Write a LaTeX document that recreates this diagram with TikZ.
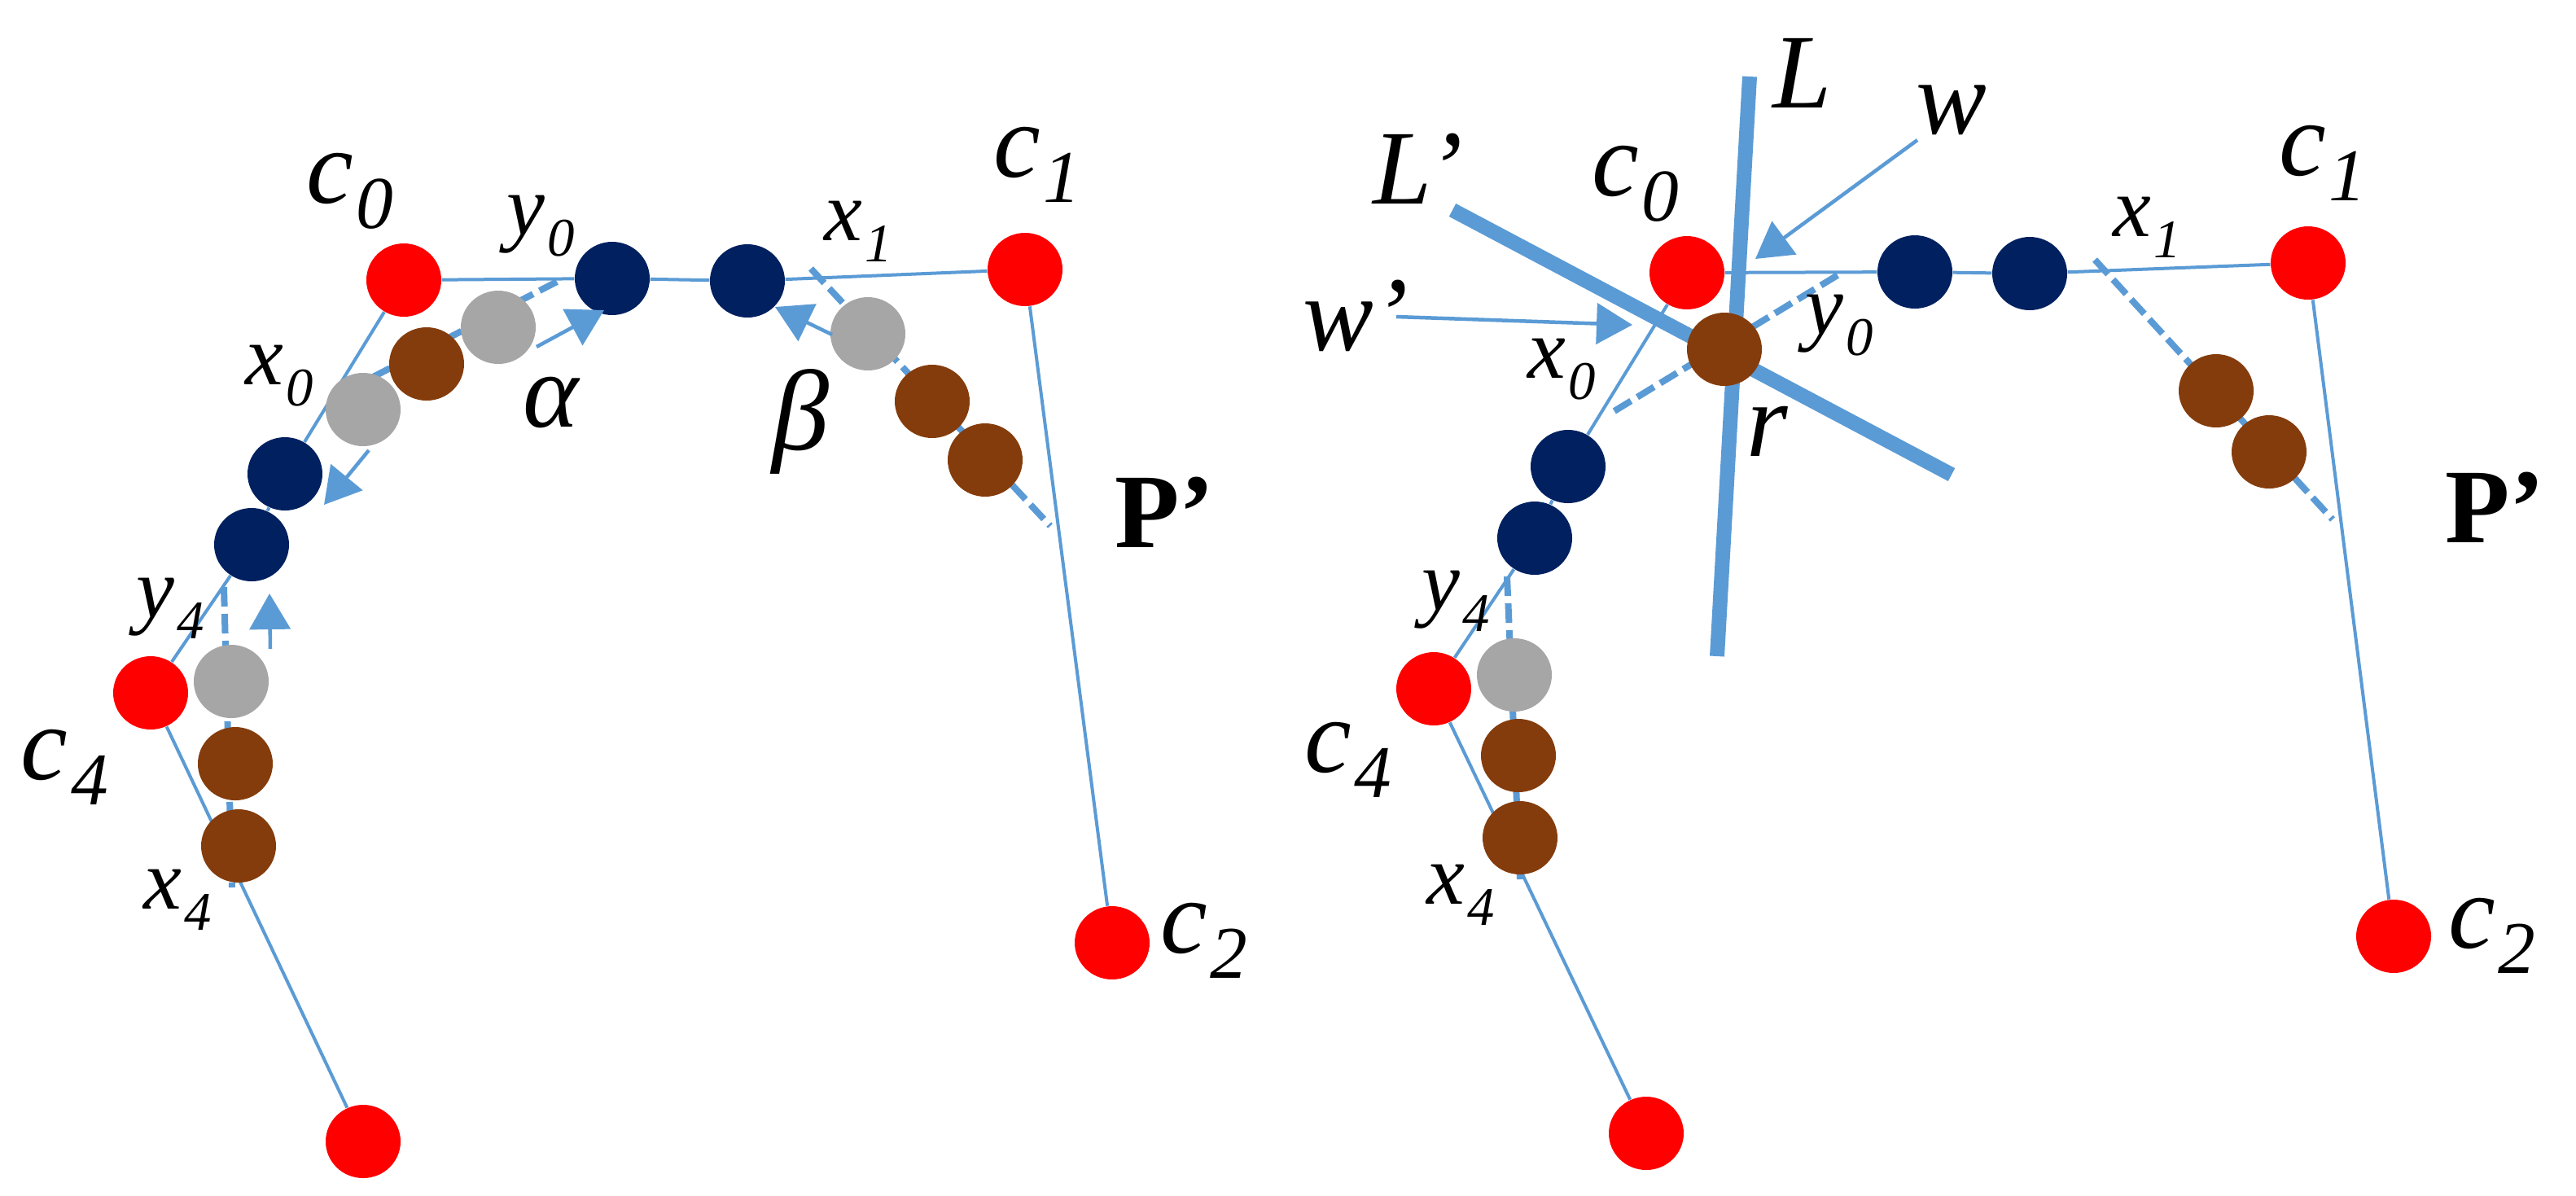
\documentclass[tikz,border=0pt]{standalone}
\usepackage{fontspec}
\setmainfont{Liberation Serif}
\usepackage{tikz}
\usetikzlibrary{shapes.geometric,arrows.meta,backgrounds}

\definecolor{ctrlred}{HTML}{FF0000}
\definecolor{navypt}{HTML}{002060}
\definecolor{brownpt}{HTML}{843C0C}
\definecolor{graypt}{HTML}{A6A6A6}
\definecolor{linkblue}{HTML}{5B9BD5}

\newcommand{\lbig}[2]{{\fontsize{37}{37}\selectfont\itshape #1\kern1pt\raisebox{-9pt}{\fontsize{26}{26}\selectfont #2}}}
\newcommand{\lsmall}[2]{{\fontsize{30}{30}\selectfont\itshape #1\kern1pt\raisebox{-7.4pt}{\fontsize{19}{19}\selectfont #2}}}

\begin{document}
\begin{tikzpicture}[x=1cm,y=-1cm,
    ball/.style = {ellipse, minimum width=.92cm, minimum height=.9cm, inner sep=0},
    ctrl/.style = {ball, fill=ctrlred},
    navy/.style = {ball, fill=navypt},
    brn/.style = {ball, fill=brownpt},
    gry/.style = {ball, fill=graypt},
    poly/.style = {draw=linkblue, line width=.04cm},
    foot/.style = {draw=linkblue, line width=.08cm, dash pattern=on .24cm off .09cm},
    move/.style = {draw=linkblue, line width=.045cm, -{Triangle[length=.44cm,width=.5cm,fill=linkblue]}},
    axis/.style = {draw=linkblue, line width=.18cm},
    lab/.style = {anchor=base west, inner sep=0, outer sep=0},
    big/.style = {lab, font=\fontsize{37}{37}\selectfont\itshape},
    small/.style = {lab, font=\fontsize{30}{30}\selectfont\itshape}]
    \useasboundingbox (0,0) rectangle (31.64,14.68);

    % left panel
    \node[ctrl] (lc0) at (4.96,3.44) {};
    \node[ctrl] (lc1) at (12.59,3.31) {};
    \node[ctrl] (lc2) at (13.66,11.58) {};
    \node[ctrl] (lc3) at (4.46,14.02) {};
    \node[ctrl] (lc4) at (1.85,8.51) {};
    \node[navy] (ly0) at (7.52,3.42) {};
    \node[navy] (lx1) at (9.18,3.45) {};
    \node[navy] (lx0) at (3.50,5.82) {};
    \node[navy] (ly4) at (3.09,6.69) {};
    \node[gry] (lg0) at (6.12,4.02) {};
    \node[gry] (lg1) at (4.46,5.03) {};
    \node[gry] (lg2) at (10.66,4.10) {};
    \node[gry] (lg3) at (2.84,8.37) {};
    \node[brn] (lb0) at (5.24,4.47) {};
    \node[brn] (lb1) at (11.45,4.93) {};
    \node[brn] (lb2) at (12.10,5.65) {};
    \node[brn] (lb3) at (2.89,9.38) {};
    \node[brn] (lb4) at (2.93,10.39) {};

    \coordinate (lf0) at (6.84,3.46);
    \coordinate (lf1) at (4.08,4.89);
    \coordinate (lf2) at (9.96,3.30);
    \coordinate (lf3) at (12.90,6.46);
    \coordinate (lf4) at (2.75,7.21);
    \coordinate (lf5) at (2.85,10.90);
    \coordinate (la0) at (6.59,4.26);
    \coordinate (la1) at (7.42,3.81);
    \coordinate (la2) at (4.53,5.53);
    \coordinate (la3) at (3.98,6.20);
    \coordinate (la4) at (3.32,7.97);
    \coordinate (la5) at (3.31,7.29);
    \coordinate (la6) at (10.22,4.11);
    \coordinate (la7) at (9.52,3.77);

    \begin{scope}[on background layer]
    \draw[poly] (lc0) -- (ly0);
    \draw[poly] (ly0) -- (lx1);
    \draw[poly] (lx1) -- (lc1);
    \draw[poly] (lc1) -- (lc2);
    \draw[poly] (lc0) -- (lx0);
    \draw[poly] (lx0) -- (ly4);
    \draw[poly] (ly4) -- (lc4);
    \draw[poly] (lc4) -- (lc3);
    \draw[foot] (lf0) -- (lf1);
    \draw[foot] (lf2) -- (lf3);
    \draw[foot] (lf4) -- (lf5);
    \end{scope}

    \draw[move] (la0) -- (la1);
    \draw[move] (la2) -- (la3);
    \draw[move] (la4) -- (la5);
    \draw[move] (la6) -- (la7);

    \node[lab] (tlc0) at (3.76,2.49) {\lbig{c}{0}};
    \node[lab] (tlc1) at (12.20,2.17) {\lbig{c}{1}};
    \node[lab] (tlc2) at (14.25,11.70) {\lbig{c}{2}};
    \node[lab] (tlc4) at (0.26,9.57) {\lbig{c}{4}};
    \node[lab] (tly0) at (6.22,2.88) {\lsmall{y}{0}};
    \node[lab] (tlx0) at (3.01,4.72) {\lsmall{x}{0}};
    \node[lab] (tlx1) at (10.12,2.95) {\lsmall{x}{1}};
    \node[lab] (tly4) at (1.67,7.58) {\lsmall{y}{4}};
    \node[lab] (tlx4) at (1.76,11.16) {\lsmall{x}{4}};
    \node[big] (talpha) at (6.42,5.24) {α};
    \node[lab, font=\fontsize{40}{40}\selectfont\itshape] (tbeta) at (9.48,5.52) {β};
    \node[lab, font=\fontsize{37}{37}\selectfont\bfseries] (tlp) at (13.69,6.72) {P’};

    % right panel
    \node[ctrl] (rc0) at (20.72,3.35) {};
    \node[ctrl] (rc1) at (28.35,3.23) {};
    \node[ctrl] (rc2) at (29.40,11.50) {};
    \node[ctrl] (rc3) at (20.22,13.92) {};
    \node[ctrl] (rc4) at (17.61,8.46) {};
    \node[navy] (ry0) at (23.52,3.34) {};
    \node[navy] (rx1) at (24.93,3.36) {};
    \node[navy] (rx0) at (19.26,5.73) {};
    \node[navy] (ry4) at (18.85,6.61) {};
    \node[gry] (rg3) at (18.60,8.29) {};
    \node[brn] (rr) at (21.18,4.29) {};
    \node[brn] (rb1) at (27.22,4.80) {};
    \node[brn] (rb2) at (27.87,5.55) {};
    \node[brn] (rb3) at (18.65,9.28) {};
    \node[brn] (rb4) at (18.67,10.29) {};

    \coordinate (rf0) at (22.57,3.38);
    \coordinate (rf1) at (19.81,5.06);
    \coordinate (rf2) at (25.73,3.19);
    \coordinate (rf3) at (28.65,6.38);
    \coordinate (rf4) at (18.51,7.08);
    \coordinate (rf5) at (18.67,10.80);
    \coordinate (ll0) at (21.49,0.94);
    \coordinate (ll1) at (21.09,8.06);
    \coordinate (lp0) at (17.84,2.58);
    \coordinate (lp1) at (23.97,5.83);
    \coordinate (ra0) at (23.55,1.72);
    \coordinate (ra1) at (21.56,3.18);
    \coordinate (ra2) at (17.15,3.89);
    \coordinate (ra3) at (20.05,3.99);

    \begin{scope}[on background layer]
    \draw[axis] (ll0) -- (ll1);
    \draw[axis] (lp0) -- (lp1);
    \draw[poly] (rc0) -- (ry0);
    \draw[poly] (ry0) -- (rx1);
    \draw[poly] (rx1) -- (rc1);
    \draw[poly] (rc1) -- (rc2);
    \draw[poly] (rc0) -- (rx0);
    \draw[poly] (rx0) -- (ry4);
    \draw[poly] (ry4) -- (rc4);
    \draw[poly] (rc4) -- (rc3);
    \draw[foot] (rf0) -- (rf1);
    \draw[foot] (rf2) -- (rf3);
    \draw[foot] (rf4) -- (rf5);
    \end{scope}

    \draw[move] (ra0) -- (ra1);
    \draw[move] (ra2) -- (ra3);

    \node[lab] (trc0) at (19.55,2.40) {\lbig{c}{0}};
    \node[lab] (trc1) at (27.99,2.15) {\lbig{c}{1}};
    \node[lab] (trc2) at (30.07,11.64) {\lbig{c}{2}};
    \node[lab] (trc4) at (16.02,9.48) {\lbig{c}{4}};
    \node[lab] (try0) at (22.17,4.10) {\lsmall{y}{0}};
    \node[lab] (trx0) at (18.76,4.64) {\lsmall{x}{0}};
    \node[lab] (trx1) at (25.95,2.90) {\lsmall{x}{1}};
    \node[lab] (try4) at (17.46,7.49) {\lsmall{y}{4}};
    \node[lab] (trx4) at (17.52,11.10) {\lsmall{x}{4}};
    \node[big] (tl) at (21.77,1.32) {L};
    \node[big] (tlp2) at (16.86,2.50) {L’};
    \node[big] (tw) at (23.53,1.64) {w};
    \node[big] (twp) at (16.00,4.30) {w’};
    \node[big] (tr) at (21.45,5.60) {r};
    \node[lab, font=\fontsize{37}{37}\selectfont\bfseries] (trp) at (30.03,6.66) {P’};
\end{tikzpicture}
\end{document}
